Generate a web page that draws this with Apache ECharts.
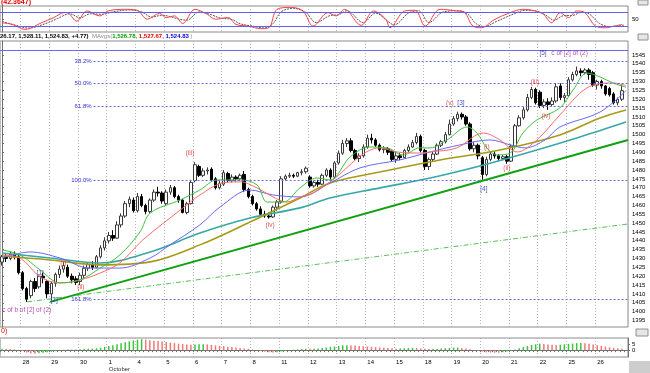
<!DOCTYPE html>
<html>
<head>
<meta charset="utf-8">
<script src="https://cdn.jsdelivr.net/npm/echarts@6.0.0/dist/echarts.min.js"></script>
<style>
html,body{margin:0;padding:0;background:#ffffff;}
#chart{width:650px;height:373px;}
</style>
</head>
<body>
<div id="chart"></div>
<script>
// ---------------- DATA ----------------
const tradingDays = ['27','28','29','30','1','4','5','6','7','8','11','12','13','14','15','18','19','20','21','22','25','26'];
const barsPerDay  = [5,7,7,7,7,7,7,7,7,7,7,7,7,7,7,7,7,7,7,7,7,7];

const barOpen = [
1428,1431,1430,1432,1431,1422,1413,1409,1417,1414,
1420,1417,1410,1416,1421,1424,1425,1420,1418.5,1417,
1420.5,1424.5,1426.5,1425,1431,1436,1440,1443,1441.5,1449,
1454,1461,1463,1457,1465,1460,1456.5,1463,1467.5,1467,
1461,1467.5,1470,1465,1463,1456,1461,1474,1482,1477,
1479.5,1480.5,1475,1470,1472,1478,1474,1476,1475,1477.5,
1469,1465,1461,1458,1455,1454,1453.5,1459,1462,1475,
1476.5,1477,1476.5,1478.5,1479,1476,1471,1473,1472,1477,
1480,1476,1484,1489.5,1495,1496.5,1491,1486.5,1488,1493,
1498,1497,1494,1491.5,1492,1490.5,1486,1488,1487,1491,
1493,1495.5,1499,1491,1482,1486,1489,1494,1496,1500,
1506,1509,1511.5,1510,1506,1492,1494,1487,1477.5,1486,
1489,1488,1486.5,1487.5,1485,1493.5,1505,1509.5,1514,1521,
1525.5,1524,1516.5,1518.5,1517,1519,1527.5,1521,1522,1531,
1534,1536,1535,1536.5,1535,1528,1530,1527.5,1526,1523,
1518,1520];
const barClose = [
1431,1430,1432.5,1431,1422,1413,1407,1417,1413,1420,
1419,1410,1416,1421,1424,1426,1420,1418,1416.5,1420.5,
1424.5,1426.5,1425,1431,1436,1440,1443,1441.5,1449,1454,
1461,1463.5,1457,1465,1460,1456.5,1463,1467.5,1467,1462.5,
1467.5,1470,1465,1463,1456,1461,1473,1483,1477,1479.5,
1480,1474.5,1470,1472.5,1478.5,1474,1476,1475,1477,1469,
1465,1461,1458,1455,1454,1453.5,1459,1462,1475,1476.5,
1477,1476.5,1478.5,1479,1481,1471,1473,1472,1477,1480,
1476,1484,1489.5,1495,1496.5,1491,1486.5,1488,1493,1498,
1497,1494,1491.5,1492,1490,1486,1488,1487,1491,1493,
1495.5,1499,1491,1482,1486,1489,1494,1496,1500,1506,
1509,1511.5,1510,1506,1492,1494,1488,1477.5,1486,1489,
1488,1486.5,1487.5,1485,1493.5,1505,1509.5,1514,1521,1525.5,
1518,1516.5,1518.5,1517,1519,1527,1521,1522,1531,1534,
1536,1535,1536.5,1534,1528,1530,1527.5,1523,1522.5,1518,
1520,1524.8];
const barLow = [
1426,1428,1429,1429.5,1421,1412,1405.5,1407.5,1411,1413,
1416,1407.5,1406.5,1414,1419,1422,1419,1416,1415,1415,
1419,1423,1423.5,1424.5,1430,1434.5,1438.5,1440,1441,1447.5,
1453,1459,1456,1456,1459,1455,1455.5,1462,1465,1461,
1460,1466,1464,1461.5,1455.5,1455,1460.5,1473,1476,1476,
1477.5,1473.5,1469,1469,1471,1473,1473,1473.5,1474,1467.5,
1464,1460,1457,1454,1453,1452.5,1453,1457,1461,1474,
1475.5,1475.5,1476,1477,1478,1470,1470,1470.5,1471.5,1476,
1474.5,1475,1483,1488.5,1493,1490,1485.5,1484.5,1487,1492,
1495,1493,1490.5,1489.5,1488.5,1485,1484,1485.5,1486.5,1490,
1492.5,1494.5,1490,1480,1480,1485,1488.5,1493,1495,1499.5,
1505,1507.5,1508.5,1505,1491,1490,1486,1474.5,1476.5,1485,
1486.5,1485,1485.5,1483.5,1484.5,1493,1504.5,1508.5,1513,1520,
1517,1515,1515,1514,1516,1518,1519.5,1518.5,1521.5,1530,
1533,1533,1534,1531,1527,1525.5,1526,1522,1521.5,1517,
1516.5,1519];
const barHigh = [
1432,1433,1434,1434,1432,1423,1414,1418,1419,1421,
1422,1418,1417,1422,1426,1428,1426.5,1421.5,1420,1422,
1426,1428,1428.5,1432,1437.5,1442,1445,1446,1451,1455.5,
1462.5,1465,1464.5,1467,1466.5,1461,1464,1469,1470.5,1468,
1469,1471.5,1471,1466,1463.5,1462,1474.5,1484.5,1483,1481,
1481.5,1481.5,1476,1474,1480,1479,1477.5,1477,1478,1479.5,
1470,1466,1462,1459.5,1457,1456,1460,1463,1476.5,1477.5,
1478.5,1478,1479,1480.5,1482,1477,1474,1474.5,1478,1481,
1481,1485,1491,1497,1498,1498,1492,1489.5,1494.5,1500,
1500.5,1498,1495,1493.5,1493,1491.5,1490,1489.5,1492,1494.5,
1497,1501,1500,1492,1487,1490.5,1495,1497,1501.5,1508.5,
1510.5,1513,1512.5,1511,1507,1496,1495,1488,1487.5,1490.5,
1490.5,1489,1488.5,1488.5,1494.5,1506,1511,1515.5,1523,1527,
1526.5,1525,1520,1520.5,1521,1529,1529,1523.5,1532.5,1535.5,
1538.5,1537.5,1537.5,1537.5,1536,1531,1531,1528,1527,1524,
1521,1528.1];

// moving averages: [bar index, price]
const maGreen = [[0,1434.8],[4.4,1432],[9.3,1423.5],[14.1,1416.2],[19,1417.9],[23.9,1424.6],[28.7,1432],[33.6,1445],[36.1,1455.7],[43.4,1463.1],[48.2,1468.7],[52.4,1474.4],[58,1474.4],[62.1,1471.6],[64.6,1461.9],[68.5,1461.9],[72.6,1469.9],[76.7,1475.5],[79.9,1474.4],[84.8,1487.4],[89.6,1493],[93.8,1492.5],[97.7,1488.5],[101.8,1492.5],[104.3,1492.5],[108.4,1497],[113.3,1504.3],[115.7,1500.9],[118.1,1492.5],[120.6,1488.5],[123.8,1489.6],[126.9,1500.9],[130.3,1508.3],[135.9,1515.1],[139.1,1525.2],[142.5,1534.8],[145.7,1532.6],[148.8,1529.2],[152,1526.8]];
const maRed = [[0,1432],[4.4,1430.3],[9.3,1419.6],[14.1,1416.2],[19,1417.9],[23.9,1421.8],[28.7,1427.5],[34.3,1440.5],[44.1,1458.6],[48.2,1465.9],[53.8,1472.7],[58,1473.3],[62.1,1469.9],[66,1464.8],[69.4,1461.9],[72.6,1464.8],[75.8,1467],[79.9,1473.3],[92.1,1492.5],[96.2,1490.2],[101.8,1489.6],[104.3,1490.2],[110.8,1492.5],[117.2,1500.9],[121.3,1497],[125.5,1490.2],[130.3,1497],[135.9,1511.1],[142.5,1526.4],[148.8,1529.2],[152,1527.7]];
const maBlue = [[0,1430.3],[6.8,1433.7],[14.1,1430.3],[21.4,1424.6],[28.7,1424.6],[36.1,1430.3],[40.9,1437.7],[48.2,1449],[53.1,1459.1],[60.4,1468.7],[66,1465.9],[72.6,1464.8],[79.9,1472.7],[87.2,1481.2],[96.9,1485.7],[104.3,1490.2],[111.6,1494.2],[118.9,1497],[123.8,1494.2],[127.4,1492.5],[132.3,1497],[135.9,1504.3],[145.7,1512.8],[152,1524.8]];
const maOlive = [[0,1431.4],[11.7,1429.2],[23.9,1426.4],[36.1,1428.1],[48.2,1437.7],[60.4,1450.6],[72.6,1464.2],[79.9,1472.7],[92.1,1478.9],[106.7,1485.7],[121.3,1491.3],[135.9,1499.8],[145.7,1509.4],[152,1513.9]];
const maTeal = [[0,1433.1],[11.7,1430.3],[23.9,1427.5],[36.1,1433.7],[48.2,1444.4],[60.4,1452.9],[72.6,1458.6],[79.9,1464.2],[92.1,1469.9],[104.3,1475.5],[116.4,1482.3],[128.6,1490.2],[140.8,1498.7],[152,1507.1]];

// trend lines: [bar index, price]
const trendMain = [[11.7,1405.5],[152.5,1497]];
const trendDashed = [[6.1,1405.5],[152.5,1449.5]];

// fibonacci levels
const fibNames  = ['38.2%','50.0%','61.8%','100.0%','161.8%'];
const fibLevels = [1541.6,1528.8,1515.9,1474.4,1407.2];
const fibStartIdx = 22.3;
const topLineLevel = 1547.8;

// wave labels
const waveText  = ['[1]','[2]','(i)','(ii)','(iii)','(iv)','(v)','[3]','[4]','(i)','(ii)','(iii)','(iv)','[5]'];
const waveIdx   = [9.3,12.7,14.9,19.2,45.8,65.3,109.1,111.8,117.4,118.1,123,129.8,132.5,131.8];
const wavePrice = [1421.8,1406.6,1427.5,1414,1489.6,1449,1517.9,1517.9,1469.3,1493,1481.2,1529.7,1510.5,1546.1];
const noteText  = ['c of b of [2] of (2)','c of [2] of (2)'];
const noteIdx   = [-0.1,133.7];
const notePrice = [1400.9,1546.1];

// oscillator (top panel): [bar index, value]
const oscRed = [[0,34],[2.5,27],[5.6,6],[9.6,34],[12.6,56],[15.2,77],[16.2,74],[18.2,41],[20.7,84],[23.8,63],[25.8,84],[29.8,91],[32.9,87],[35.4,49],[38.4,74],[40,56],[42,63],[44,31],[47,91],[50,70],[52,49],[55,56],[57,27],[60,20],[63,9],[65,13],[67,91],[70.3,99],[73.3,84],[75.8,20],[79.4,77],[81.4,63],[83.4,91],[87.5,23],[90.5,84],[93.5,49],[94.5,13],[98.1,84],[100.6,87],[103.1,20],[106.7,91],[110.7,84],[112.7,77],[114.7,20],[116.8,13],[119.8,46],[123.8,77],[126.9,91],[129.9,84],[131.9,70],[133.9,34],[136,77],[138,56],[140,84],[142,77],[144.6,20],[147.1,13],[149.1,20],[151.1,27]];
const oscGray = [[0,40],[3,25],[6.5,12],[10.5,30],[13.5,52],[16.5,72],[19,55],[21.5,72],[24.5,70],[27,80],[31,88],[34,80],[36.5,58],[39,66],[41,60],[43,50],[45,45],[48,80],[51,68],[53,55],[56,48],[58,30],[61,20],[64,12],[66,30],[68,80],[71,95],[74,78],[76.5,35],[80,65],[82,68],[84,85],[88,35],[91,75],[94,40],[95.5,25],[99,75],[101.5,85],[104,35],[107.5,80],[111.5,85],[113.5,70],[115.5,30],[117.5,18],[120.5,40],[124.5,70],[127.5,87],[130.5,82],[132.5,66],[134.5,45],[137,65],[139,65],[141,78],[143,72],[145.5,32],[148,18],[150,20],[151.5,24]];
const oscTicks = [20,50,80];
const oscLabels = [50];

// histogram (bottom panel), one value per bar
const histValues = [
1.2,1.0,0.8,0.6,0.2,-0.8,-2.0,-2.8,-3.0,-2.6,
-2.2,-1.8,-1.4,-0.8,-0.3,0.3,0.6,0.5,0.6,0.8,
1.0,1.1,1.3,1.6,2.0,2.6,3.3,4.0,4.8,5.6,
6.4,7.2,8.0,8.6,9.0,8.7,8.2,7.8,7.5,7.1,
6.6,6.2,5.8,5.3,5.0,4.6,4.4,4.6,4.8,4.9,
4.7,4.3,3.9,3.5,3.2,2.8,2.5,2.2,1.8,1.4,
1.0,0.5,-0.2,-0.8,-1.4,-1.8,-2.0,-1.7,-1.2,-0.6,
-0.1,0.3,0.6,0.9,1.2,1.1,1.2,1.4,1.7,2.1,
2.6,3.0,3.5,3.9,4.1,3.9,3.7,3.4,3.2,3.0,
2.7,2.5,2.2,2.0,1.7,1.5,1.2,1.3,1.5,1.7,
1.9,1.7,1.4,1.1,0.9,1.0,1.2,1.4,1.6,1.8,
2.0,2.1,1.8,1.3,0.7,0.1,-0.5,-1.2,-1.8,-2.0,
-2.1,-2.2,-1.8,-1.2,-0.5,0.4,1.5,2.5,3.4,4.2,
4.8,5.3,5.0,4.7,4.4,4.3,4.5,4.8,5.1,5.4,
5.7,5.9,5.6,5.2,4.7,4.1,3.5,2.9,2.3,1.8,
1.4,1.2];
const histTicks = [0,5];

// price axis tick labels
const priceTicks = [1395,1400,1405,1410,1415,1420,1425,1430,1435,1440,1445,1450,1455,1460,1465,1470,1475,1480,1485,1490,1495,1500,1505,1510,1515,1520,1525,1530,1535,1540,1545];

// ---------------- CHART ----------------
const FONT = 'Liberation Sans';
const categories = [];
const dayStartIdx = [];
tradingDays.forEach((d, k) => {
  dayStartIdx.push(categories.length);
  for (let j = 0; j < barsPerDay[k]; j++) categories.push(j === 0 ? d : d + '_' + j);
});
categories.push('_end');
const isDayStart = i => dayStartIdx.indexOf(i) >= 0;
const xMax = categories.length - 0.5;

const candleData = barOpen.map((o, i) => [o, barClose[i], barLow[i], barHigh[i]]);
const histData = histValues.map((v, i) => ({
  value: v,
  itemStyle: { color: (i === 0 || v >= histValues[i - 1]) ? '#3cc43c' : '#f07878' }
}));

const splitDotted = { show: true, interval: (i) => isDayStart(i), lineStyle: { color: '#b4b4b4', type: [1, 2], width: 1 } };

function catAxis(gi, withLabels) {
  return {
    type: 'category', gridIndex: gi, data: categories, boundaryGap: true,
    axisLine: { show: withLabels, lineStyle: { color: '#707070' } },
    axisTick: { show: withLabels, interval: 0, length: 2, lineStyle: { color: '#707070' } },
    axisLabel: withLabels ? {
      show: true, interval: (i) => i > 0 && isDayStart(i),
      formatter: v => v === '1' ? '1\n{m|October}' : v,
      align: 'left', fontSize: 6, fontFamily: FONT, color: '#000', margin: 2, lineHeight: 7,
      rich: { m: { fontSize: 6, fontFamily: FONT, color: '#303030' } }
    } : { show: false },
    splitLine: splitDotted
  };
}
function valAxis(gi) {
  return { type: 'value', gridIndex: gi, min: -0.5, max: xMax, show: false, splitLine: { show: false } };
}
function yAx(gi, min, max, ticks, labels) {
  return {
    type: 'value', gridIndex: gi, position: 'right', min: min, max: max,
    axisLine: { show: true, lineStyle: { color: '#707070' } },
    axisTick: { show: true, length: 2, customValues: ticks, lineStyle: { color: '#707070' } },
    axisLabel: { show: true, customValues: labels, formatter: v => String(v), fontSize: 6, fontFamily: FONT, color: '#000', margin: 4 },
    splitLine: { show: false }
  };
}
function maLine(data, color, width, z) {
  return {
    type: 'line', xAxisIndex: 4, yAxisIndex: 1, data: data, smooth: 0.35, showSymbol: false,
    lineStyle: { color: color, width: width }, z: z, silent: true
  };
}

const fibLines = fibLevels.map((v, k) => [
  { coord: [fibStartIdx, v], label: { formatter: fibNames[k] } },
  { coord: [xMax, v] }
]);
fibLines.push([
  { coord: [-0.5, topLineLevel], lineStyle: { type: 'solid', color: '#6a6af0' }, label: { show: false } },
  { coord: [xMax, topLineLevel] }
]);

const waveData = waveText.map((t, k) => ({
  value: [waveIdx[k], wavePrice[k]],
  label: { formatter: t, color: t.charAt(0) === '[' ? '#2020b0' : '#e02828' }
}));
const noteData = noteText.map((t, k) => ({ value: [noteIdx[k], notePrice[k]], label: { formatter: t } }));

const chart = echarts.init(document.getElementById('chart'), null, { renderer: 'canvas' });
chart.setOption({
  animation: false,
  backgroundColor: '#ffffff',
  grid: [
    { left: -1, right: 22, top: 6, height: 26, show: true, borderColor: '#8c8c8c', borderWidth: 1, backgroundColor: '#ffffff' },
    { left: -1, right: 22, top: 41, height: 286, show: true, borderColor: '#8c8c8c', borderWidth: 1, backgroundColor: '#ffffff' },
    { left: -1, right: 22, top: 338, height: 22, show: true, borderColor: '#8c8c8c', borderWidth: 1, backgroundColor: '#ffffff' }
  ],
  xAxis: [catAxis(0, false), catAxis(1, false), catAxis(2, true), valAxis(0), valAxis(1)],
  yAxis: [
    yAx(0, -5, 105, oscTicks, oscLabels),
    yAx(1, 1391.3, 1552.9, priceTicks, priceTicks),
    yAx(2, -5.7, 10, histTicks, histTicks)
  ],
  series: [
    {
      type: 'line', xAxisIndex: 3, yAxisIndex: 0, data: oscGray, smooth: 0.35, showSymbol: false,
      lineStyle: { color: '#555555', width: 1, type: [2, 1] }, z: 3, silent: true
    },
    {
      type: 'line', xAxisIndex: 3, yAxisIndex: 0, data: oscRed, smooth: 0.35, showSymbol: false,
      lineStyle: { color: '#ff4040', width: 1 }, z: 4, silent: true,
      markLine: {
        silent: true, symbol: ['none', 'none'], label: { show: false },
        lineStyle: { color: '#6060f0', type: 'solid', width: 1 },
        data: [{ yAxis: 80 }, { yAxis: 20 }]
      }
    },
    {
      type: 'candlestick', xAxisIndex: 1, yAxisIndex: 1, data: candleData, barWidth: 3, z: 2, silent: true,
      itemStyle: { color: '#ffffff', color0: '#000000', borderColor: '#3a3a3a', borderColor0: '#000000', borderWidth: 1 }
    },
    maLine(maTeal, '#36a8a8', 1.6, 3),
    maLine(maOlive, '#a89a18', 1.6, 3),
    maLine(maBlue, '#6868ff', 1, 4),
    maLine(maRed, '#ff6a6a', 1, 4),
    maLine(maGreen, '#40c040', 1, 4),
    {
      type: 'line', xAxisIndex: 4, yAxisIndex: 1, data: trendDashed, showSymbol: false, silent: true,
      lineStyle: { color: '#58c058', width: 1, type: [5, 2, 1, 2] }, z: 5
    },
    {
      type: 'line', xAxisIndex: 4, yAxisIndex: 1, data: trendMain, showSymbol: false, silent: true,
      lineStyle: { color: '#10a010', width: 2 }, z: 5,
      markLine: {
        silent: true, symbol: ['none', 'none'],
        lineStyle: { color: '#6a6af0', type: [2, 2], width: 1 },
        label: { show: true, position: 'start', fontSize: 6, fontFamily: FONT, color: '#3030d0', distance: 2 },
        data: fibLines
      }
    },
    {
      type: 'scatter', xAxisIndex: 4, yAxisIndex: 1, data: waveData, symbolSize: 1, silent: true,
      itemStyle: { color: 'rgba(0,0,0,0)' }, z: 6,
      label: { show: true, position: 'inside', fontSize: 6.5, fontFamily: FONT }
    },
    {
      type: 'scatter', xAxisIndex: 4, yAxisIndex: 1, data: noteData, symbolSize: 1, silent: true,
      itemStyle: { color: 'rgba(0,0,0,0)' }, z: 6,
      label: { show: true, position: 'right', distance: 0, fontSize: 6.5, fontFamily: FONT, color: '#a020a0' }
    },
    {
      type: 'bar', xAxisIndex: 2, yAxisIndex: 2, data: histData, barWidth: 1.5, silent: true, z: 2
    }
  ],
  graphic: [
    { type: 'text', left: 1, top: -1, style: { text: '(42.3647)', fill: '#e00000', fontSize: 7, fontFamily: FONT, fontWeight: 'bold' } },
    {
      type: 'text', left: 0, top: 33,
      style: {
        text: '{k|26.17, 1,528.11, 1,524.83, +4.77)}  {g|MAvgs(}{gr|1,526.78,} {rd|1,527.67,} {bl|1,524.83}{g| )}',
        fontSize: 6, fontFamily: FONT,
        rich: {
          k: { fill: '#000000', fontSize: 6, fontWeight: 'bold', fontFamily: FONT },
          g: { fill: '#909090', fontSize: 6, fontFamily: FONT },
          gr: { fill: '#00a000', fontSize: 6, fontWeight: 'bold', fontFamily: FONT },
          rd: { fill: '#e00000', fontSize: 6, fontWeight: 'bold', fontFamily: FONT },
          bl: { fill: '#0000e0', fontSize: 6, fontWeight: 'bold', fontFamily: FONT }
        }
      }
    },
    { type: 'text', left: 1, top: 328, style: { text: '0)', fill: '#e00000', fontSize: 7, fontFamily: FONT } },
    { type: 'rect', shape: { x: 638, y: 0, width: 10, height: 5 }, style: { fill: '#e6e6e6', stroke: '#909090' } },
    { type: 'rect', shape: { x: 638, y: 34, width: 10, height: 6 }, style: { fill: '#e6e6e6', stroke: '#909090' } },
    { type: 'rect', shape: { x: 636, y: 329, width: 12, height: 7 }, style: { fill: '#e6e6e6', stroke: '#909090' } },
    { type: 'rect', shape: { x: 629, y: 361, width: 21, height: 12 }, style: { fill: '#cdcdcd' } }
  ]
});
</script>
</body>
</html>
